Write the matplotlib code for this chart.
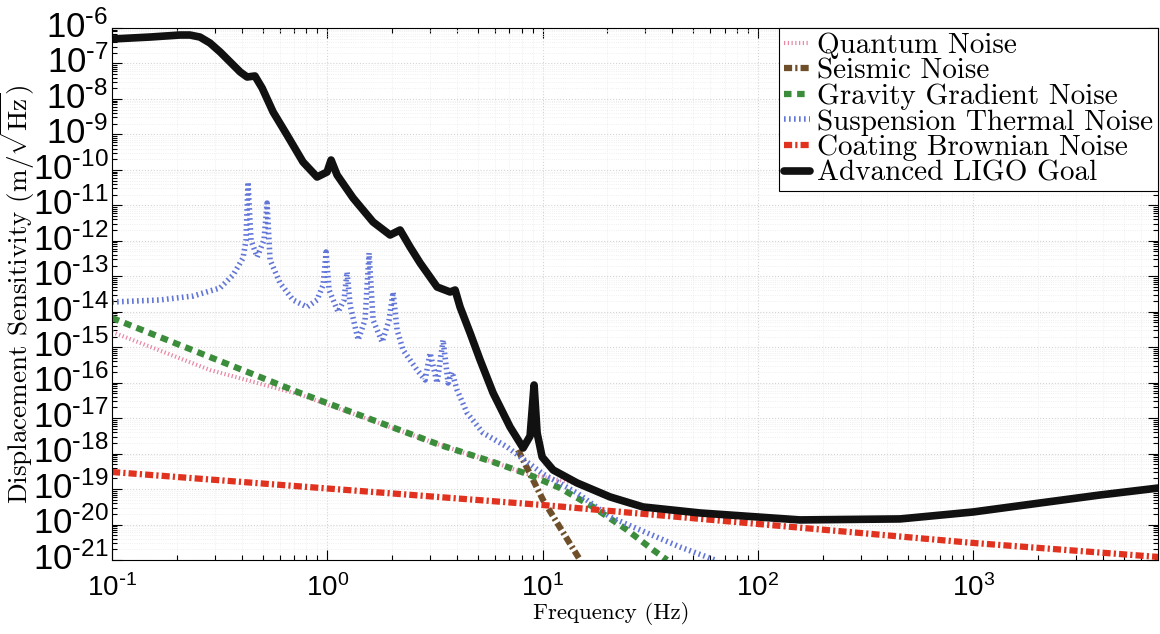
import numpy as np
import matplotlib.pyplot as plt
import matplotlib.transforms as mtransforms

# noise curves (frequency in Hz, sensitivity in m/sqrt(Hz))
goal_f = [0.1, 0.150, 0.207, 0.230, 0.256, 0.285, 0.318, 0.394, 0.424, 0.461, 0.498, 0.560,
          0.650, 0.771, 0.896, 0.997, 1.041, 1.110, 1.317, 1.631, 1.957, 2.178, 2.423, 2.698,
          3.236, 3.718, 3.923, 4.137, 4.605, 5.125, 5.89, 7.06, 8.12, 8.75, 9.13, 9.43, 9.95,
          11.19, 14.46, 20.59, 29.3, 53.9, 157, 458, 1000, 2048, 3890, 7237]
goal_v = [4.90e-7, 5.57e-7, 6.35e-7, 6.35e-7, 5.57e-7, 3.78e-7, 2.10e-7, 5.75e-8, 4.16e-8,
          4.44e-8, 2.03e-8, 4.29e-9, 9.6e-10, 1.67e-10, 6.3e-11, 8.7e-11, 1.90e-10, 7.18e-11,
          1.61e-11, 3.40e-12, 1.46e-12, 2.02e-12, 6.70e-13, 2.37e-13, 4.99e-14, 3.61e-14,
          4.10e-14, 1.36e-14, 2.52e-15, 4.37e-16, 5.13e-17, 5.64e-18, 1.44e-18, 3.14e-18,
          8.6e-17, 3.82e-18, 8.04e-19, 3.46e-19, 1.49e-19, 6.0e-20, 3.13e-20, 2.12e-20,
          1.35e-20, 1.44e-20, 2.26e-20, 4.06e-20, 6.82e-20, 1.07e-19]

susp_f = [0.100, 0.167, 0.238, 0.3175, 0.365, 0.406, 0.419, 0.428, 0.442, 0.472, 0.508, 0.525,
          0.542, 0.603, 0.693, 0.805, 0.896, 0.956, 0.987, 1.019, 1.122, 1.196, 1.235, 1.276,
          1.390, 1.497, 1.563, 1.631, 1.797, 1.936, 2.021, 2.109, 2.248, 2.612, 2.846, 3.002,
          3.236, 3.450, 3.639, 3.798, 4.006, 4.459, 5.290, 6.841, 10.05, 14.46, 20.59, 30.6,
          43.5, 63.3]
susp_v = [1.88e-14, 2.15e-14, 2.78e-14, 4.68e-14, 1.09e-13, 3.28e-13, 1.05e-12, 4.55e-11,
          1.05e-12, 3.50e-13, 1.05e-12, 1.16e-11, 2.88e-13, 6.47e-14, 2.15e-14, 1.36e-14,
          2.15e-14, 5.68e-14, 4.84e-13, 4.10e-14, 9.84e-15, 2.15e-14, 1.32e-13, 1.55e-14,
          1.60e-15, 5.86e-15, 4.54e-13, 5.86e-15, 1.40e-15, 5.86e-15, 3.61e-14, 3.06e-15,
          8.36e-16, 2.28e-16, 1.19e-16, 6.87e-16, 9.80e-17, 1.60e-15, 9.80e-17, 2.00e-16,
          6.22e-17, 1.40e-17, 3.82e-18, 1.54e-18, 2.67e-19, 7.76e-20, 1.63e-20, 5.78e-21,
          2.33e-21, 1.0e-21]

grav_f = [0.1, 0.747, 3.34, 5.89, 8.47, 12.06, 17.16, 24.7, 32.6, 37.9]
grav_v = [6.67e-15, 5.13e-17, 1.75e-18, 5.81e-19, 2.67e-19, 1.07e-19, 3.13e-20, 7.03e-21,
          1.92e-21, 1.0e-21]

quant_f = [0.1, 0.285, 0.747, 3.34, 5.89, 8.47, 14.46, 20.59, 29.3, 53.9, 157, 458, 1000,
           2048, 3890, 7237]
quant_v = [2.69e-15, 2.28e-16, 4.6e-17, 1.75e-18, 5.81e-19, 2.67e-19, 1.45e-19, 5.9e-20,
           3.1e-20, 2.1e-20, 1.33e-20, 1.42e-20, 2.22e-20, 4.0e-20, 6.7e-20, 1.05e-19]

seis_f = [7.69, 10.05, 14.93]
seis_v = [1.27e-18, 4.93e-20, 1.0e-21]

coat_f = [0.1, 1, 10, 100, 1000, 7237]
coat_v = [3.03e-19, 1.04e-19, 3.56e-20, 1.04e-20, 3.03e-21, 1.22e-21]

plt.rcParams['font.family'] = ['Liberation Sans', 'DejaVu Sans']


def decade_label(v, pos):
    # 10^n with a short hyphen in the exponent, like the original tick labels
    n = int(round(np.log10(v)))
    if n < 0:
        return r'$\mathdefault{10^{\text{-}%d}}$' % -n
    return r'$\mathdefault{10^{%d}}$' % n


fig, ax = plt.subplots(figsize=(11.6, 6.34), dpi=100)
fig.subplots_adjust(left=0.0966, right=0.998, bottom=0.1167, top=0.9558)

ax.loglog(quant_f, quant_v, color='#e88aa6', lw=3, dashes=(0.3, 0.6), label='Quantum Noise')
ax.loglog(seis_f, seis_v, color='#6e4f2a', lw=4.5, dashes=(1.3, 0.5, 0.35, 0.5),
          label='Seismic Noise')
ax.loglog(grav_f, grav_v, color='#3b8c3b', lw=4.5, dashes=(1.2, 0.9), label='Gravity Gradient Noise')
ax.loglog(susp_f, susp_v, color='#6276d8', lw=4, dashes=(0.3, 0.6),
          label='Suspension Thermal Noise')
ax.loglog(coat_f, coat_v, color='#e0321e', lw=4.5, dashes=(1.3, 0.5, 0.35, 0.5),
          label='Coating Brownian Noise')
ax.loglog(goal_f, goal_v, color='#111111', lw=5.5, solid_joinstyle='round',
          solid_capstyle='round', label='Advanced LIGO Goal')

ax.set_xlim(0.1, 7200)
ax.set_ylim(1e-21, 1e-6)
ax.set_yticks([10.0 ** k for k in range(-21, -5)])
ax.yaxis.set_major_formatter(plt.FuncFormatter(decade_label))
ax.xaxis.set_major_formatter(plt.FuncFormatter(decade_label))
ax.yaxis.set_minor_locator(plt.LogLocator(base=10, subs=np.arange(2, 10), numticks=100))
ax.xaxis.set_minor_locator(plt.LogLocator(base=10, subs=np.arange(2, 10), numticks=100))
ax.yaxis.set_minor_formatter(plt.NullFormatter())
ax.xaxis.set_minor_formatter(plt.NullFormatter())

ax.tick_params(which='both', direction='in', top=True, right=True, width=0.8)
ax.tick_params(which='major', length=7)
ax.tick_params(which='minor', length=3.5)
ax.tick_params(axis='y', labelsize=25, pad=2.5)
ax.tick_params(axis='x', labelsize=20, pad=10)

# nudge the y tick labels up a little so the lowest one clears the x labels
lift = mtransforms.ScaledTranslation(0, 3 / 72, fig.dpi_scale_trans)
for lab in ax.get_yticklabels():
    lab.set_transform(lab.get_transform() + lift)

ax.grid(True, which='major', color='#d4d4d4', ls=':', lw=0.8)
ax.grid(True, which='minor', color='#ebebeb', ls=':', lw=0.6)

ax.set_xlabel('Frequency (Hz)', fontfamily='cmr10', fontsize=16.5)
ax.xaxis.set_label_coords(0.477, -0.078)
ax.set_ylabel(r'Displacement Sensitivity (m/$\sqrt{\mathrm{Hz}}$)', fontfamily='cmr10',
              math_fontfamily='cm', fontsize=19.5)
ax.yaxis.set_label_coords(-0.0715, 0.5)

leg = ax.legend(loc='upper right', prop={'family': 'cmr10', 'size': 21}, fancybox=False,
                edgecolor='black', framealpha=1, borderaxespad=0, handlelength=0.9,
                handletextpad=0.25, labelspacing=-0.03, borderpad=0.15)
leg.get_frame().set_linewidth(0.8)

plt.savefig('out.png', dpi=100)
